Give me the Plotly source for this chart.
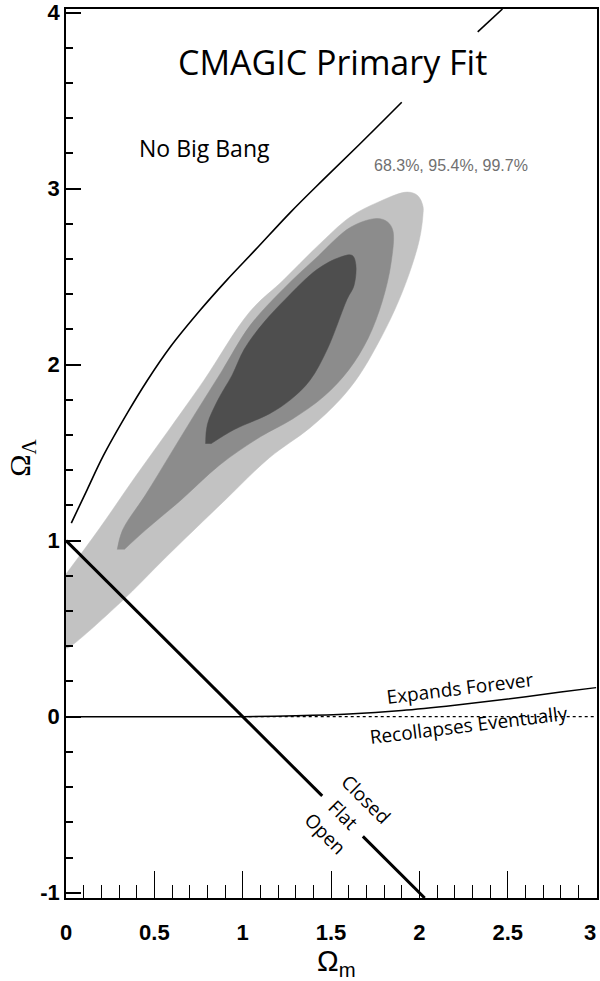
import plotly.graph_objects as go

# ---- data (Omega_m, Omega_Lambda) ----
c997_x = [0.00, 0.19, 0.39, 0.59, 0.78, 1.04, 1.23, 1.42, 1.61, 1.76, 1.93, 1.99, 2.02, 2.02, 2.00,
          1.94, 1.86, 1.76, 1.66, 1.55, 1.38, 1.15, 0.90, 0.57, 0.31, 0.01, 0.00]
c997_y = [0.81, 1.07, 1.36, 1.64, 1.91, 2.30, 2.48, 2.67, 2.84, 2.92, 2.98, 2.96, 2.90, 2.85, 2.71,
          2.51, 2.31, 2.11, 1.94, 1.80, 1.64, 1.47, 1.23, 0.91, 0.65, 0.39, 0.39]

c954_x = [0.29, 0.32, 0.45, 0.59, 0.73, 0.88, 1.04, 1.23, 1.42, 1.61, 1.76, 1.82, 1.85, 1.84,
          1.79, 1.71, 1.60, 1.46, 1.28, 1.10, 0.87, 0.65, 0.45, 0.33]
c954_y = [0.95, 1.06, 1.26, 1.49, 1.72, 1.96, 2.22, 2.43, 2.61, 2.78, 2.83, 2.81, 2.76, 2.58,
          2.36, 2.15, 1.97, 1.82, 1.69, 1.59, 1.43, 1.23, 1.06, 0.95]

c683_x = [0.79, 0.80, 0.86, 0.94, 1.01, 1.12, 1.24, 1.42, 1.55, 1.62, 1.64, 1.63, 1.59, 1.48,
          1.38, 1.27, 1.15, 0.95, 0.82]
c683_y = [1.55, 1.66, 1.80, 1.94, 2.09, 2.24, 2.37, 2.54, 2.61, 2.62, 2.57, 2.45, 2.37, 2.09,
          1.91, 1.80, 1.72, 1.63, 1.55]

# "No Big Bang" boundary (two visible pieces, broken around the title)
nbb_x1 = [0.03, 0.12, 0.21, 0.35, 0.46, 0.59, 0.76, 0.91, 1.07, 1.27, 1.45, 1.66, 1.90]
nbb_y1 = [1.10, 1.29, 1.48, 1.73, 1.91, 2.10, 2.31, 2.48, 2.65, 2.865, 3.045, 3.25, 3.49]
nbb_x2 = [2.33, 2.47]
nbb_y2 = [3.89, 4.02]

# Expands forever / recollapses boundary
exp_x = [0.0, 1.0, 1.3, 1.6, 1.9, 2.2, 2.5, 2.8, 3.0]
exp_y = [0.0, 0.0, 0.005, 0.015, 0.035, 0.065, 0.10, 0.14, 0.165]
rec_x = [1.0, 3.0]
rec_y = [0.0, 0.0]

# Flat universe line (broken for the labels)
flat_x1 = [0.0, 1.45]
flat_y1 = [1.0, -0.45]
flat_x2 = [1.68, 2.03]
flat_y2 = [-0.68, -1.03]

x_ticks = [0, 0.5, 1, 1.5, 2, 2.5, 3]
x_ticklabels = ["0", "0.5", "1", "1.5", "2", "2.5", "3\u00a0\u00a0"]
y_ticks = [-1, 0, 1, 2, 3, 4]
y_ticklabels = ["-1", "0", "1", "2", "3", "4"]

fig = go.Figure()

for xs, ys, col in [(c997_x, c997_y, "#c2c2c2"), (c954_x, c954_y, "#8c8c8c"), (c683_x, c683_y, "#4e4e4e")]:
    fig.add_trace(go.Scatter(x=xs, y=ys, fill="toself", fillcolor=col, mode="lines",
                             line=dict(width=0.5, color=col, shape="spline", smoothing=1.0),
                             hoverinfo="skip", showlegend=False))

fig.add_trace(go.Scatter(x=nbb_x1, y=nbb_y1, mode="lines", line=dict(color="black", width=1.6, shape="spline"), showlegend=False))
fig.add_trace(go.Scatter(x=nbb_x2, y=nbb_y2, mode="lines", line=dict(color="black", width=1.6), showlegend=False))
fig.add_trace(go.Scatter(x=exp_x, y=exp_y, mode="lines", line=dict(color="black", width=1.5, shape="spline"), showlegend=False))
fig.add_trace(go.Scatter(x=rec_x, y=rec_y, mode="lines", line=dict(color="black", width=1.2, dash="dot"), showlegend=False))
fig.add_trace(go.Scatter(x=flat_x1, y=flat_y1, mode="lines", line=dict(color="black", width=3), showlegend=False))
fig.add_trace(go.Scatter(x=flat_x2, y=flat_y2, mode="lines", line=dict(color="black", width=3), showlegend=False))

txt_font = "Open Sans, Lato, sans-serif"
ann = [
    dict(x=1.51, y=3.72, text="CMAGIC Primary Fit", font=dict(family=txt_font, size=34, color="black")),
    dict(x=0.785, y=3.23, text="No Big Bang", font=dict(family=txt_font, size=23, color="black")),
    dict(x=2.18, y=3.13, text="68.3%, 95.4%, 99.7%", font=dict(family="Liberation Sans, Arial", size=16, color="#707070")),
    dict(x=2.23, y=0.165, text="Expands Forever", textangle=-7, font=dict(family=txt_font, size=19, color="black")),
    dict(x=2.28, y=-0.045, text="Recollapses Eventually", textangle=-7, font=dict(family=txt_font, size=19, color="black")),
    dict(x=1.695, y=-0.47, text="Closed", textangle=45, font=dict(family=txt_font, size=19, color="black")),
    dict(x=1.57, y=-0.56, text="Flat", textangle=45, font=dict(family=txt_font, size=19, color="black")),
    dict(x=1.47, y=-0.665, text="Open", textangle=45, font=dict(family=txt_font, size=19, color="black")),
]
for a in ann:
    a.update(xref="x", yref="y", showarrow=False, xanchor="center", yanchor="middle")
fig.update_layout(annotations=ann)

fig.add_annotation(xref="paper", yref="paper", x=-0.083, y=0.495, text="Ω<sub>Λ</sub>", textangle=-90,
                   xanchor="center", yanchor="middle",
                   showarrow=False, font=dict(family="Liberation Serif, Times New Roman, serif", size=30, color="black"))
fig.add_annotation(xref="x", yref="paper", x=1.53, y=-0.073, text="Ω<sub>m</sub>",
                   xanchor="center", yanchor="middle",
                   showarrow=False, font=dict(family="Liberation Sans, Arial", size=29, color="black"))

fig.update_xaxes(range=[0, 3.005], tickvals=x_ticks, ticktext=x_ticklabels,
                 ticks="inside", ticklen=27, tickwidth=1.2, tickcolor="black",
                 minor=dict(ticks="inside", ticklen=13, dtick=0.1, tickwidth=1.2, tickcolor="black"),
                 showline=True, linecolor="black", linewidth=1.5, mirror=True,
                 showgrid=False, zeroline=False, ticklabelstandoff=14, automargin=False,
                 ticklabeloverflow="allow",
                 tickfont=dict(family="Liberation Sans, Arial", size=22, color="black", weight="bold"))
fig.update_yaxes(range=[-1.03, 4.02], tickvals=y_ticks, ticktext=y_ticklabels,
                 ticks="inside", ticklen=15, tickwidth=1.5, tickcolor="black",
                 minor=dict(ticks="inside", ticklen=7, dtick=0.2, tickwidth=1.5, tickcolor="black"),
                 showline=True, linecolor="black", linewidth=1.5, mirror=True,
                 showgrid=False, zeroline=False, automargin=False,
                 ticklabeloverflow="allow",
                 tickfont=dict(family="Liberation Sans, Arial", size=22, color="black", weight="bold"))

fig.update_layout(width=600, height=981, margin=dict(l=66, r=3, t=9, b=83, autoexpand=False),
                  plot_bgcolor="white", paper_bgcolor="white", showlegend=False)

# remove the default 8px body margin so the figure fills the window exactly
fig.write_html("out.html", config={"displayModeBar": False},
               post_script="document.body.style.margin='0';document.body.style.overflow='hidden';")
